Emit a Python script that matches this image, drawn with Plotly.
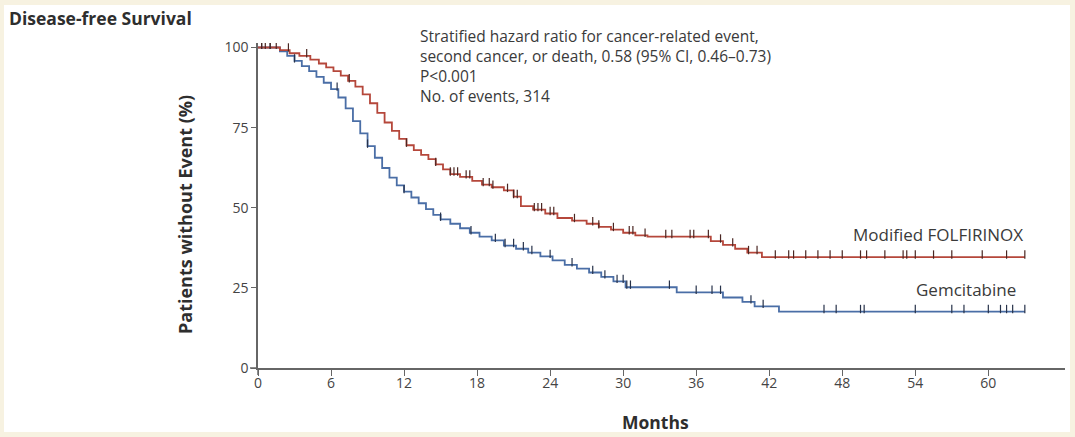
import numpy as np
import plotly.graph_objects as go

# ---------------- data ----------------
months_folfirinox = [0, 1.8, 2.6, 3.4, 4.3, 5.0, 5.6, 6.2, 6.8, 7.4, 8.0, 8.6, 9.2, 9.8, 10.4,
                     11.0, 11.6, 12.2, 12.8, 13.4, 14.0, 14.6, 15.2, 15.8, 16.6, 17.6, 18.4,
                     19.2, 20.2, 21.0, 21.6, 22.6, 23.6, 24.6, 25.8, 27.0, 28.0, 29.0, 30.0,
                     31.0, 32.0, 37.2, 38.2, 39.2, 40.2, 41.4, 63.0]
surv_folfirinox = [100, 99.2, 98.2, 97.4, 96.2, 95.0, 93.8, 92.6, 91.2, 89.6, 87.8, 85.4, 82.6,
                   79.6, 76.6, 74.0, 71.5, 69.5, 68.0, 66.5, 65.2, 63.5, 62.0, 60.5, 59.6, 58.4,
                   57.2, 56.4, 55.4, 53.5, 50.5, 49.4, 48.2, 46.8, 46.0, 45.0, 44.0, 43.2, 42.2,
                   41.4, 41.0, 39.6, 38.4, 37.2, 36.0, 34.6, 34.6]

months_gemcitabine = [0, 1.8, 2.4, 3.0, 3.6, 4.2, 4.8, 5.4, 6.0, 6.6, 7.2, 7.8, 8.4, 9.0, 9.6,
                      10.2, 10.8, 11.4, 12.0, 12.6, 13.2, 13.8, 14.4, 15.0, 15.8, 16.6, 17.4,
                      18.2, 19.2, 20.2, 21.2, 22.2, 23.2, 24.2, 25.2, 26.2, 27.2, 28.2, 29.2,
                      30.2, 34.4, 38.2, 39.8, 40.8, 42.8, 63.0]
surv_gemcitabine = [100, 98.8, 97.4, 95.8, 94.2, 92.6, 90.8, 89.0, 87.0, 84.4, 81.0, 77.0, 73.2,
                    69.2, 65.6, 62.4, 59.4, 57.0, 55.0, 53.2, 51.4, 49.6, 47.8, 46.4, 45.0, 43.6,
                    42.2, 41.0, 39.8, 38.2, 37.2, 36.0, 34.8, 33.6, 32.2, 31.0, 29.8, 28.4, 27.0,
                    25.2, 23.6, 22.0, 20.6, 19.2, 17.6, 17.6]

censor_folfirinox = [0.3, 0.6, 1.0, 1.5, 2.5, 4.0, 7.5, 12.2, 14.6, 15.8, 16.1, 16.4, 17.1, 17.4,
                     18.5, 19.0, 19.3, 20.5, 21.0, 21.3, 22.7, 23.0, 23.3, 24.0, 24.3, 26.0,
                     27.5, 28.0, 29.2, 30.5, 30.8, 31.8, 33.5, 34.0, 35.5, 35.8, 37.0, 38.0,
                     39.0, 40.3, 41.0, 42.5, 43.6, 44.0, 45.0, 46.0, 47.0, 48.0, 49.5, 50.0,
                     51.5, 53.0, 53.3, 54.0, 55.5, 57.0, 59.5, 61.5, 63.0]
censor_gemcitabine = [0.3, 1.0, 3.0, 6.5, 9.0, 12.0, 15.0, 17.5, 19.5, 20.3, 21.0, 21.8, 22.5,
                      24.0, 25.8, 27.5, 28.5, 29.5, 30.0, 30.3, 30.6, 33.8, 36.0, 37.3, 38.0,
                      40.5, 41.5, 46.5, 47.5, 49.5, 49.8, 54.0, 57.0, 58.0, 60.0, 61.0, 61.5,
                      62.0, 63.0]

x_ticks = [0, 6, 12, 18, 24, 30, 36, 42, 48, 54, 60]
y_ticks = [0, 25, 50, 75, 100]

annotation_lines = ["Stratified hazard ratio for cancer-related event,",
                    "second cancer, or death, 0.58 (95% CI, 0.46\u20130.73)",
                    "P<0.001",
                    "No. of events, 314"]

# ---------------- layout geometry ----------------
W, H = 1075, 437
L, R, T, B = 258, 10, 43, 69
X_MAX, Y_MAX = 66.3, 101.4
pw, ph = W - L - R, H - T - B


def px_x(px):
    return (px - L) / pw


def px_y(py):
    return (H - B - py) / ph


def step_value(times, surv, t):
    idx = np.searchsorted(np.asarray(times), t, side="right") - 1
    return np.asarray(surv)[np.clip(idx, 0, len(surv) - 1)]


RED = "#b5473b"
BLUE = "#4a6ea6"
FONT = "Open Sans"
TXT = "#3a3a3a"

fig = go.Figure()

for times, surv, col in [(months_gemcitabine, surv_gemcitabine, BLUE),
                         (months_folfirinox, surv_folfirinox, RED)]:
    fig.add_trace(go.Scatter(x=times, y=surv, mode="lines",
                             line=dict(color=col, width=1.8, shape="hv"),
                             hoverinfo="skip", showlegend=False))

for cens, times, surv, col in [(censor_gemcitabine, months_gemcitabine, surv_gemcitabine, "#27324a"),
                               (censor_folfirinox, months_folfirinox, surv_folfirinox, "#4a2622")]:
    yv = step_value(times, surv, np.asarray(cens))
    fig.add_trace(go.Scatter(x=cens, y=yv + 0.8, mode="markers",
                             marker=dict(symbol="line-ns", size=6,
                                         line=dict(color=col, width=1.2)),
                             hoverinfo="skip", showlegend=False))

ann = [dict(x=px_x(418), y=px_y(23), xref="paper", yref="paper",
            text="<br>".join(annotation_lines), showarrow=False, align="left",
            xanchor="left", yanchor="top",
            font=dict(family=FONT, size=15.5, color=TXT))]

ann += [
    dict(x=px_x(1025), y=px_y(234), xref="paper", yref="paper", text="Modified FOLFIRINOX",
         showarrow=False, xanchor="right", yanchor="middle",
         font=dict(family=FONT, size=17, color=TXT)),
    dict(x=px_x(1018), y=px_y(289), xref="paper", yref="paper", text="Gemcitabine",
         showarrow=False, xanchor="right", yanchor="middle",
         font=dict(family=FONT, size=17, color=TXT)),
    dict(x=px_x(7), y=px_y(18), xref="paper", yref="paper", text="<b>Disease-free Survival</b>",
         showarrow=False, xanchor="left", yanchor="middle",
         font=dict(family=FONT, size=17.5, color="#2e2e2e")),
    dict(x=px_x(185), y=px_y(215), xref="paper", yref="paper",
         text="<b>Patients without Event (%)</b>", textangle=-90,
         showarrow=False, xanchor="center", yanchor="middle",
         font=dict(family=FONT, size=18, color="#2e2e2e")),
    dict(x=px_x(655), y=px_y(422), xref="paper", yref="paper", text="<b>Months</b>",
         showarrow=False, xanchor="center", yanchor="middle",
         font=dict(family=FONT, size=17.5, color="#2e2e2e")),
]

shapes = [
    dict(type="rect", xref="paper", yref="paper", x0=px_x(4), x1=px_x(1070),
         y0=px_y(432), y1=px_y(5), fillcolor="white", line=dict(width=0), layer="below"),
    dict(type="line", xref="paper", yref="paper", x0=px_x(250), x1=px_x(258),
         y0=0, y1=0, line=dict(color="#666", width=1.5)),
    dict(type="line", xref="paper", yref="paper", x0=0, x1=0,
         y0=px_y(375), y1=0, line=dict(color="#666", width=1.5)),
]

fig.update_layout(
    width=W, height=H,
    margin=dict(l=L, r=R, t=T, b=B),
    paper_bgcolor="#f7f2e1", plot_bgcolor="white",
    annotations=ann, shapes=shapes,
    font=dict(family=FONT, size=14, color="#444"),
    xaxis=dict(range=[0, X_MAX], tickvals=x_ticks, ticktext=[str(v) for v in x_ticks],
               showgrid=False, zeroline=False, showline=True, linecolor="#666", linewidth=1.5,
               ticks="outside", ticklen=6, tickcolor="#666", tickwidth=1.2,
               ticklabelstandoff=-5,
               tickfont=dict(family=FONT, size=14, color="#444")),
    yaxis=dict(range=[0, Y_MAX], tickvals=y_ticks, ticktext=[str(v) for v in y_ticks],
               showgrid=False, zeroline=False, showline=True, linecolor="#666", linewidth=1.5,
               ticks="outside", ticklen=5, tickcolor="#666", tickwidth=1.2,
               tickfont=dict(family=FONT, size=14, color="#444")),
)

fig.write_html("out.html", config={"displayModeBar": False},
               post_script="document.body.style.margin='0';document.body.style.background='#f7f2e1';")
